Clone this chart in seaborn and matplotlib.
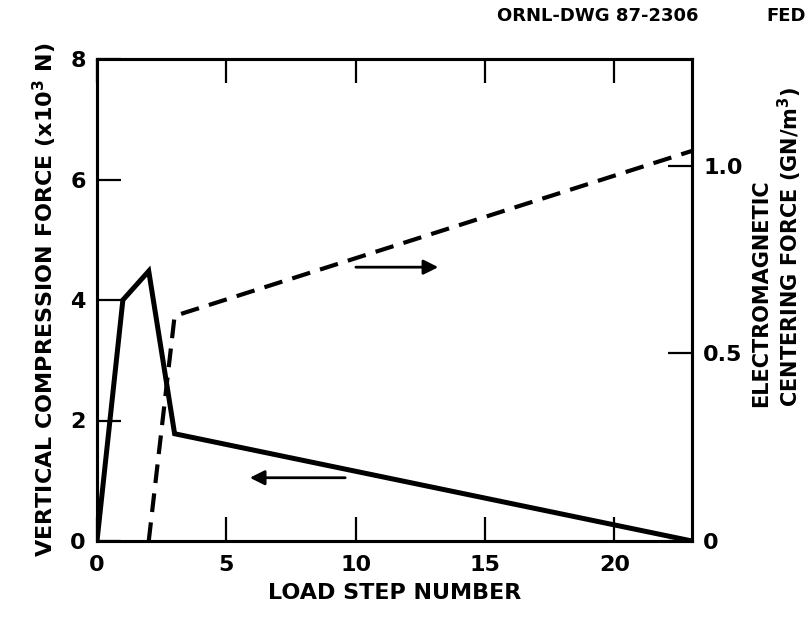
import matplotlib
matplotlib.use("Agg")
import matplotlib.pyplot as plt
import seaborn as sns
import pandas as pd

# Data
load_step_vc = [0, 1, 2, 3, 23]
vertical_compression = [0.0, 4.0, 4.48, 1.78, 0.0]   # x10^3 N (left axis)
load_step_em = [2, 3, 23]
em_centering = [0.0, 0.60, 1.04]                       # GN/m^3 (right axis)

x_ticks = [0, 5, 10, 15, 20]
left_ticks = [0, 2, 4, 6, 8]
right_ticks = [0, 0.5, 1.0]
right_tick_labels = ["0", "0.5", "1.0"]

sns.set_style("ticks")
plt.rcParams["font.family"] = ["DejaVu Sans"]
plt.rcParams["font.weight"] = "bold"
plt.rcParams["text.color"] = "black"
plt.rcParams["axes.labelcolor"] = "black"
plt.rcParams["xtick.color"] = "black"
plt.rcParams["ytick.color"] = "black"

fig = plt.figure(figsize=(8.11, 6.21), dpi=100)
ax = fig.add_axes([97/811, 1-541/621, (692-97)/811, (541-59)/621])
ax2 = ax.twinx()

df1 = pd.DataFrame({"step": load_step_vc, "force": vertical_compression})
df2 = pd.DataFrame({"step": load_step_em, "force": em_centering})

sns.lineplot(data=df1, x="step", y="force", ax=ax, color="black", lw=3.6,
             solid_joinstyle="miter")
sns.lineplot(data=df2, x="step", y="force", ax=ax2, color="black", lw=3.0,
             linestyle=(0, (4.5, 2.5)))

ax.set_xlim(0, 23)
ax.set_ylim(0, 8)
ax2.set_ylim(0, 1.285)

for a in (ax, ax2):
    for s in a.spines.values():
        s.set_visible(True)
        s.set_linewidth(2.2)
        s.set_color("black")

ax.set_xticks(x_ticks)
ax.set_xticklabels([str(v) for v in x_ticks])
ax.set_yticks(left_ticks)
ax.set_yticklabels([str(v) for v in left_ticks])
ax.tick_params(axis="both", direction="in", length=17, width=1.6, labelsize=16,
               top=True, pad=8, colors="black")
ax.tick_params(axis="x", pad=10)
ax2.set_yticks(right_ticks)
ax2.set_yticklabels(right_tick_labels)
ax2.tick_params(axis="y", direction="in", length=17, width=1.6, labelsize=16,
                pad=8, colors="black")

ax.set_xlabel("LOAD STEP NUMBER", fontsize=16, fontweight="bold", labelpad=6)
ax.set_ylabel("VERTICAL COMPRESSION FORCE (x10$^3$ N)", fontsize=16,
              fontweight="bold", labelpad=8)
ax2.set_ylabel("ELECTROMAGNETIC\nCENTERING FORCE (GN/m$^3$)", fontsize=15,
               fontweight="bold", multialignment="left")
ax2.yaxis.set_label_coords(1.10, 0.61)

# direction arrows
ax2.annotate("", xy=(13.3, 0.73), xytext=(9.9, 0.73),
             arrowprops=dict(arrowstyle="-|>", lw=2, color="black", mutation_scale=22))
ax.annotate("", xy=(5.8, 1.05), xytext=(9.7, 1.05),
             arrowprops=dict(arrowstyle="-|>", lw=2, color="black", mutation_scale=22))

fig.text(497/811, 1-16/621, "ORNL-DWG 87-2306", fontsize=13, fontweight="bold",
         ha="left", va="center")
fig.text(766/811, 1-16/621, "FED", fontsize=13, fontweight="bold",
         ha="left", va="center")

fig.savefig("out.png", dpi=100)
